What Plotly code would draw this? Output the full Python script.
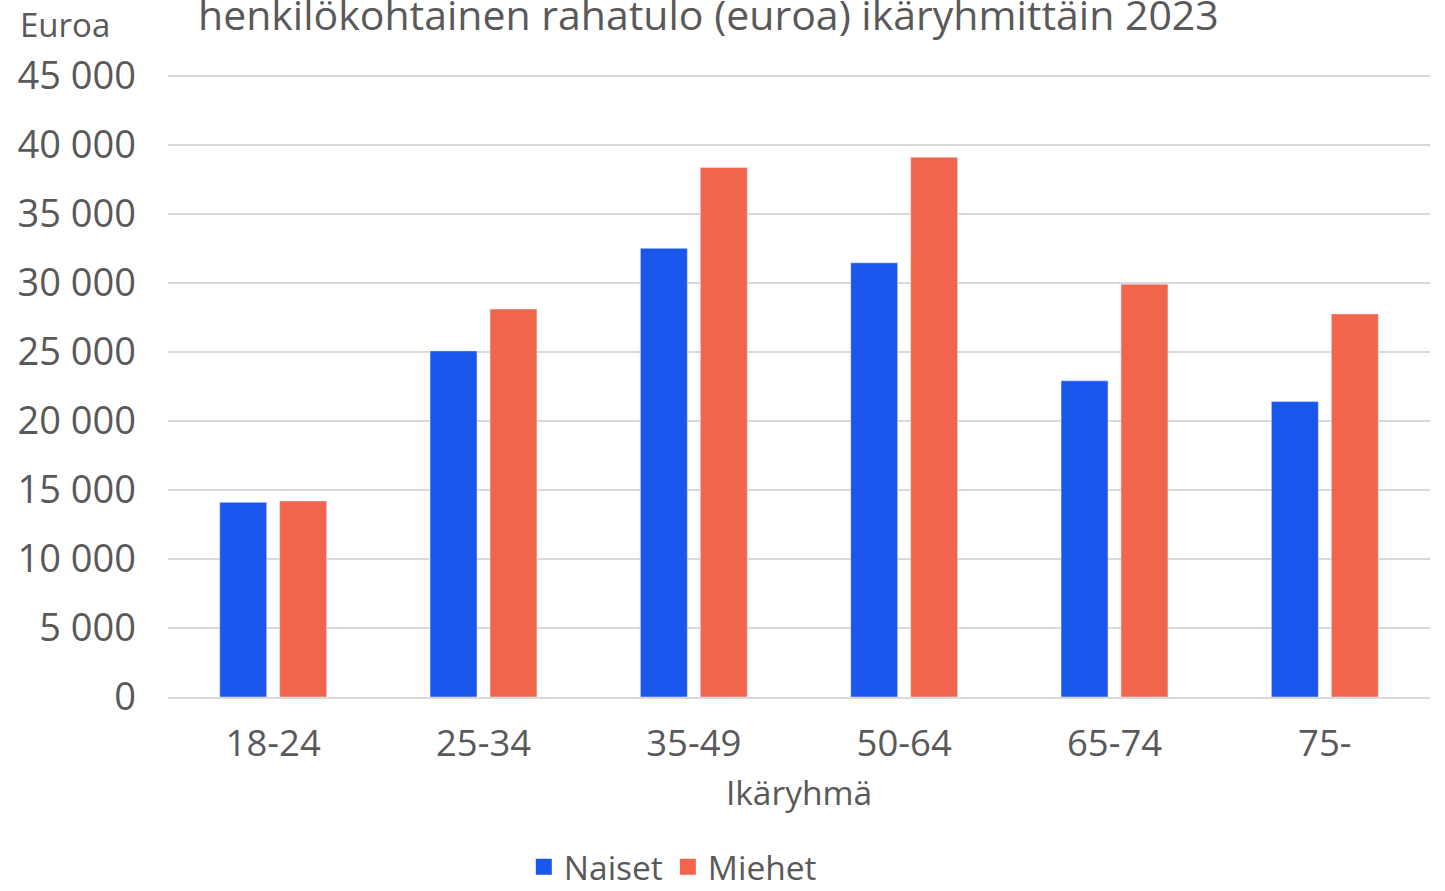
import plotly.graph_objects as go

categories = ["18-24", "25-34", "35-49", "50-64", "65-74", "75-"]
naiset = [14100, 25070, 32500, 31450, 22900, 21400]
miehet = [14200, 28100, 38350, 39100, 29900, 27750]
tick_vals = [0, 5000, 10000, 15000, 20000, 25000, 30000, 35000, 40000, 45000]
tick_text = ["0", "5 000", "10 000", "15 000", "20 000", "25 000", "30 000", "35 000", "40 000", "45 000"]

FONT = "Open Sans"
GREY = "#595959"
BLUE = "#1b56ec"
ORANGE = "#f2654d"

fig = go.Figure()
fig.add_trace(go.Bar(name="Naiset", x=categories, y=naiset, marker=dict(color=BLUE),
                     legendgroup="n", showlegend=False))
fig.add_trace(go.Bar(name="Miehet", x=categories, y=miehet, marker=dict(color=ORANGE),
                     legendgroup="m", showlegend=False))
# legend entries with larger square symbols
fig.add_trace(go.Scatter(name="Naiset", x=[None], y=[None], mode="markers", legendgroup="n",
                         marker=dict(symbol="square", size=20, color=BLUE)))
fig.add_trace(go.Scatter(name="Miehet", x=[None], y=[None], mode="markers", legendgroup="m",
                         marker=dict(symbol="square", size=20, color=ORANGE)))

fig.update_layout(
    width=1445, height=891,
    margin=dict(l=168, r=15, t=73, b=194, autoexpand=False),
    paper_bgcolor="white", plot_bgcolor="white",
    barmode="group", bargap=0.43, bargroupgap=0.217,
    font=dict(family=FONT, color=GREY, size=34),
    legend=dict(orientation="h", x=0.40, xanchor="center", y=-0.2724, yanchor="middle",
                font=dict(size=33.5, color=GREY), itemwidth=30, tracegroupgap=0),
    annotations=[
        dict(text="henkilökohtainen rahatulo (euroa) ikäryhmittäin 2023", xref="paper", yref="paper",
             x=0.428, y=1.094, xanchor="center", yanchor="middle", showarrow=False,
             font=dict(size=41, color=GREY)),
        dict(text="Euroa", xref="paper", yref="paper", x=-0.0816, y=1.077,
             xanchor="center", yanchor="middle", showarrow=False, font=dict(size=33, color=GREY)),
    ],
)
fig.update_yaxes(range=[0, 45200], tickvals=tick_vals, ticktext=tick_text, automargin=False,
                 showgrid=True, gridcolor="#d9d9d9", gridwidth=2, zeroline=False,
                 showline=False, ticks="", ticklabelstandoff=31, tickfont=dict(size=38, color=GREY))
fig.update_xaxes(showline=True, linecolor="#d9d9d9", linewidth=2, ticks="", ticklabelstandoff=13,
                 automargin=False, tickfont=dict(size=36.5, color=GREY),
                 title=dict(text="Ikäryhmä", standoff=16, font=dict(size=33.5, color=GREY)))

fig.write_html("out.html", config={"displayModeBar": False},
               post_script="document.body.style.margin='0';document.body.style.overflow='hidden';")
